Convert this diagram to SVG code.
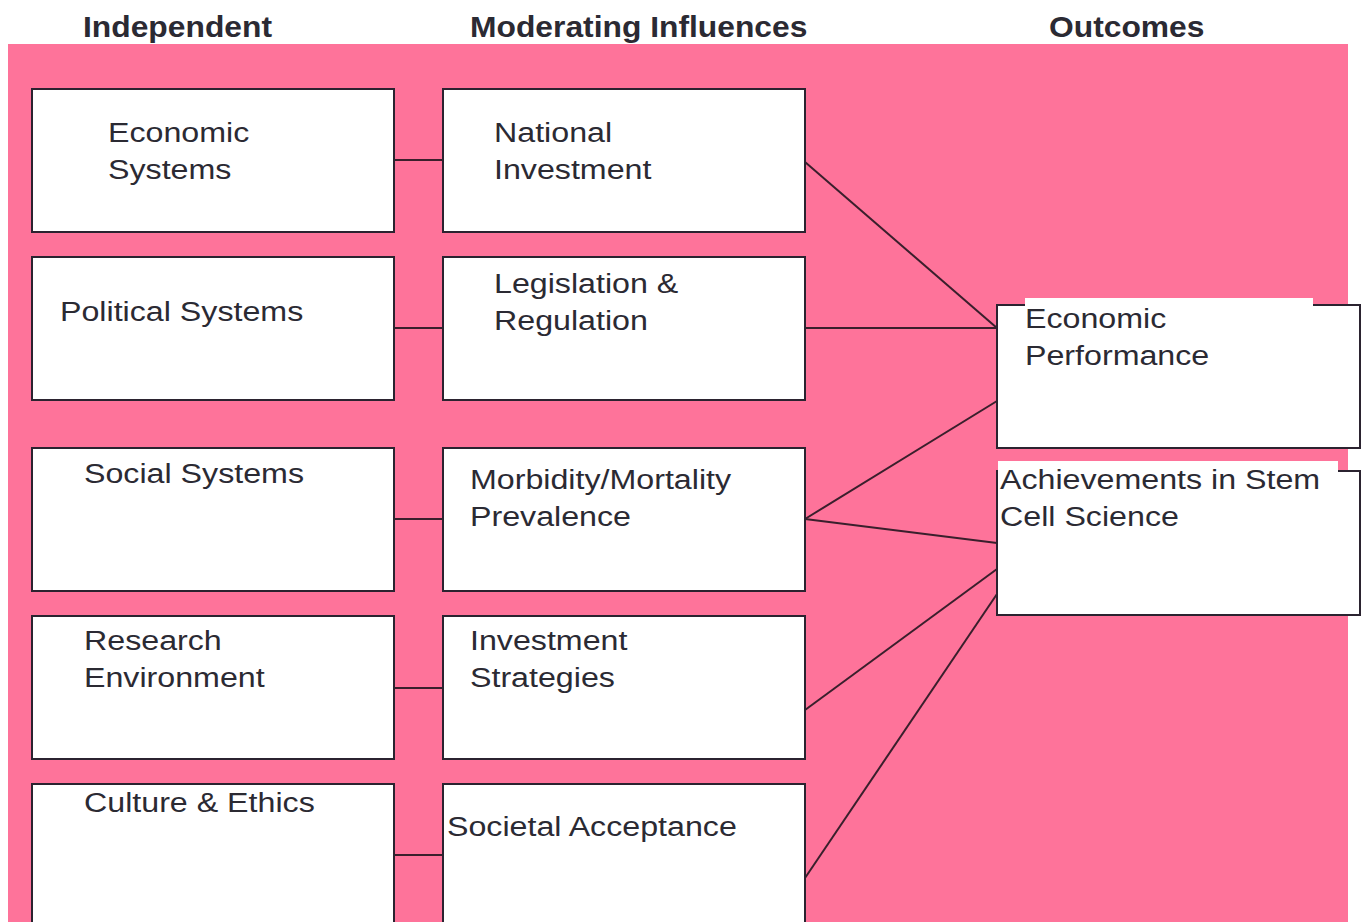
<svg xmlns="http://www.w3.org/2000/svg" width="1365" height="922" viewBox="0 0 1365 922">
<style>
.bg{fill:#fe739a}
.box{fill:#fff;stroke:#2b2330;stroke-width:2}
.t{font-family:"Liberation Sans",Arial,sans-serif;font-size:28px;fill:#2b2a33}
.h{font-family:"Liberation Sans",Arial,sans-serif;font-size:30px;font-weight:bold;fill:#2b2a33}
.c{stroke:#3a1f2c;stroke-width:2;fill:none}
</style>
<rect width="1365" height="922" fill="#fff"/>
<rect class="bg" x="8" y="44" width="1340" height="880"/>
<g id="headers">
<text class="h" transform="translate(83 37) scale(1.06 1)">Independent</text>
<text class="h" transform="translate(470 37) scale(1.06 1)">Moderating Influences</text>
<text class="h" transform="translate(1049 37) scale(1.06 1)">Outcomes</text>
</g>
<g id="connectors">
<line class="c" x1="394" y1="160" x2="443" y2="160"/>
<line class="c" x1="394" y1="328" x2="443" y2="328"/>
<line class="c" x1="394" y1="519" x2="443" y2="519"/>
<line class="c" x1="394" y1="688" x2="443" y2="688"/>
<line class="c" x1="394" y1="855" x2="443" y2="855"/>
<line class="c" x1="805" y1="162" x2="997" y2="328"/>
<line class="c" x1="805" y1="328" x2="997" y2="328"/>
<line class="c" x1="805" y1="519" x2="997" y2="401"/>
<line class="c" x1="805" y1="519" x2="997" y2="543"/>
<line class="c" x1="805" y1="710" x2="997" y2="569"/>
<line class="c" x1="805" y1="878" x2="997" y2="594"/>
</g>
<g id="economic-systems">
<rect class="box" x="32" y="89" width="362" height="143"/>
<text class="t" transform="translate(108 142) scale(1.15 1)">Economic<tspan x="0" dy="37">Systems</tspan></text>
</g>
<g id="political-systems">
<rect class="box" x="32" y="257" width="362" height="143"/>
<text class="t" transform="translate(60 321) scale(1.15 1)">Political Systems</text>
</g>
<g id="social-systems">
<rect class="box" x="32" y="448" width="362" height="143"/>
<text class="t" transform="translate(84 483) scale(1.15 1)">Social Systems</text>
</g>
<g id="research-environment">
<rect class="box" x="32" y="616" width="362" height="143"/>
<text class="t" transform="translate(84 650) scale(1.15 1)">Research<tspan x="0" dy="37">Environment</tspan></text>
</g>
<g id="culture-ethics">
<rect class="box" x="32" y="784" width="362" height="160"/>
<text class="t" transform="translate(84 812) scale(1.15 1)">Culture &amp; Ethics</text>
</g>
<g id="national-investment">
<rect class="box" x="443" y="89" width="362" height="143"/>
<text class="t" transform="translate(494 142) scale(1.15 1)">National<tspan x="0" dy="37">Investment</tspan></text>
</g>
<g id="legislation-regulation">
<rect class="box" x="443" y="257" width="362" height="143"/>
<text class="t" transform="translate(494 293) scale(1.15 1)">Legislation &amp;<tspan x="0" dy="37">Regulation</tspan></text>
</g>
<g id="morbidity-mortality">
<rect class="box" x="443" y="448" width="362" height="143"/>
<text class="t" transform="translate(470 489) scale(1.15 1)">Morbidity/Mortality<tspan x="0" dy="37">Prevalence</tspan></text>
</g>
<g id="investment-strategies">
<rect class="box" x="443" y="616" width="362" height="143"/>
<text class="t" transform="translate(470 650) scale(1.15 1)">Investment<tspan x="0" dy="37">Strategies</tspan></text>
</g>
<g id="societal-acceptance">
<rect class="box" x="443" y="784" width="362" height="160"/>
<text class="t" transform="translate(447 836) scale(1.15 1)">Societal Acceptance</text>
</g>
<g id="economic-performance">
<rect class="box" x="997" y="305" width="363" height="143"/>
<rect x="1025" y="298" width="288" height="9" fill="#fff"/>
<text class="t" transform="translate(1025 328) scale(1.15 1)">Economic<tspan x="0" dy="37">Performance</tspan></text>
</g>
<g id="achievements-stem-cell">
<rect class="box" x="997" y="471" width="363" height="144"/>
<rect x="998" y="461" width="340" height="12" fill="#fff"/>
<text class="t" transform="translate(1000 489) scale(1.15 1)">Achievements in Stem<tspan x="0" dy="37">Cell Science</tspan></text>
</g>
</svg>
